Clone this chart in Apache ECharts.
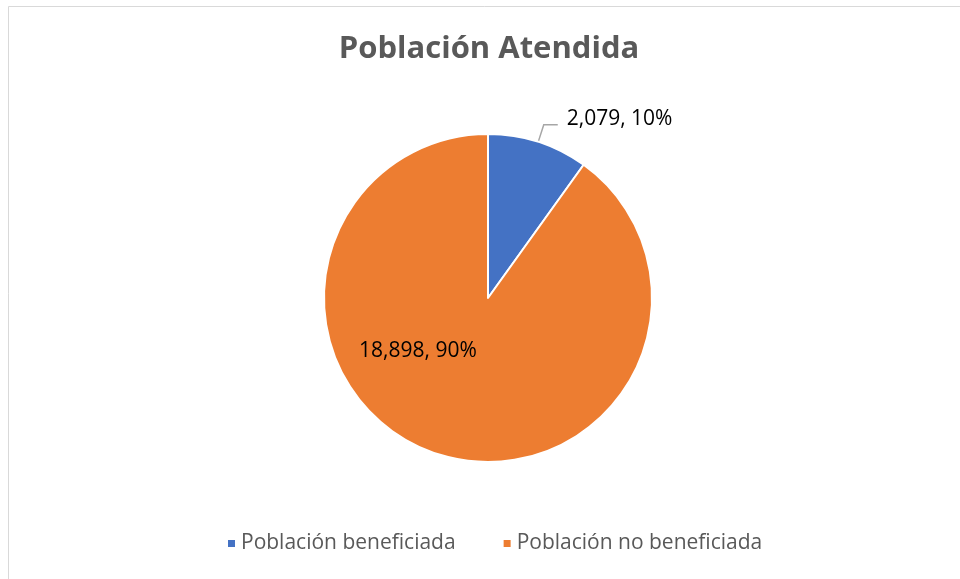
<!DOCTYPE html>
<html>
<head>
<meta charset="utf-8">
<script src="https://cdn.jsdelivr.net/npm/echarts@6/dist/echarts.min.js"></script>
<style>
  html, body { margin: 0; padding: 0; background: #fff; }
  #chart { width: 960px; height: 579px; }
</style>
</head>
<body>
<div id="chart"></div>
<script>
// datos del grafico
const titulo = 'Población Atendida'
const categorias = ['Población beneficiada', 'Población no beneficiada']
const valores = [2079, 18898]
const colores = ['#4472C4', '#ED7D31']

const fuente = '"Open Sans", "Noto Sans", sans-serif'

const myChart = echarts.init(document.getElementById('chart'))

const option = {
  backgroundColor: '#fff',
  animation: false,
  title: {
    text: titulo,
    left: 484,
    textAlign: 'center',
    top: 29,
    textStyle: { fontFamily: fuente, fontSize: 31, fontWeight: 'bold', color: '#595959' }
  },
  legend: {
    bottom: 20,
    left: 221,
    icon: 'rect',
    itemWidth: 9,
    itemHeight: 9,
    itemGap: 46,
    textStyle: { fontFamily: fuente, fontSize: 21, color: '#595959' },
    data: categorias
  },
  graphic: [{
    type: 'rect',
    shape: { x: 8.5, y: 6.5, width: 980, height: 620 },
    style: { fill: 'none', stroke: '#d9d9d9', lineWidth: 1 },
    silent: true
  }],
  series: [{
    type: 'pie',
    center: [488, 298],
    radius: 164,
    startAngle: 90,
    clockwise: true,
    itemStyle: { borderColor: '#fff', borderWidth: 2 },
    label: {
      fontFamily: fuente,
      fontSize: 21,
      color: '#000',
      formatter: p => p.value.toLocaleString('en-US') + ', ' + Math.round(p.percent) + '%'
    },
    labelLine: { length: 18, length2: 14, lineStyle: { color: '#a6a6a6', width: 1.5 } },
    labelLayout: p => (p.dataIndex === 1 ? { dx: -44, dy: -28 } : { dx: 4, dy: -6 }),
    data: categorias.map((c, i) => ({
      name: c,
      value: valores[i],
      itemStyle: { color: colores[i] },
      label: { position: i === 1 ? 'inside' : 'outside' }
    }))
  }]
}

myChart.setOption(option)
</script>
</body>
</html>
